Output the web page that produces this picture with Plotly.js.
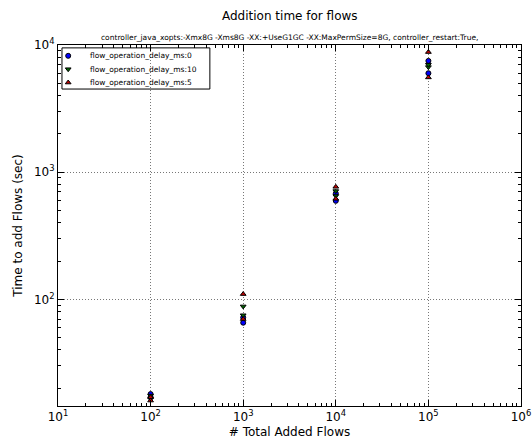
<!DOCTYPE html>
<html>
<head>
<meta charset="utf-8">
<script src="https://cdn.plot.ly/plotly-3.0.1.min.js"></script>
<style>html,body{margin:0;padding:0;background:#fff;}#chart{width:532px;height:445px;}</style>
</head>
<body>
<div id="chart"></div>
<script>
const seriesNames = ["flow_operation_delay_ms:0", "flow_operation_delay_ms:10", "flow_operation_delay_ms:5"];
const xFlows = [100, 100, 1000, 1000, 10000, 10000, 100000, 100000];
const yDelay0 = [17, 18, 65.5, 72, 595, 680, 6000, 7500];
const yDelay10 = [16.5, 17.5, 75, 88, 650, 710, 6700, 7000];
const yDelay5 = [16, 17, 70, 110, 617, 767, 5560, 8800];
const xTickVals = [10, 100, 1000, 10000, 100000, 1000000];
const xTickText = ["10<sup>1</sup>", "10<sup>2</sup>", "10<sup>3</sup>", "10<sup>4</sup>", "10<sup>5</sup>", "10<sup>6</sup>"];
const yTickVals = [100, 1000, 10000];
const yTickText = ["10<sup>2</sup>", "10<sup>3</sup>", "10<sup>4</sup>"];

const colors = ["#0000ff", "#006400", "#c00000"];
const symbols = ["circle", "triangle-down", "triangle-up"];
const ys = [yDelay0, yDelay10, yDelay5];

const traces = seriesNames.map((n, i) => ({
  type: "scatter", mode: "markers", name: n, showlegend: false,
  x: xFlows, y: ys[i],
  marker: {color: colors[i], symbol: symbols[i], size: 5, line: {color: "#000", width: 1}},
  cliponaxis: false
}));

// custom compact legend (matplotlib-like) on an overlay axis in [0,1] units
const legendRowsY = [0.970, 0.933, 0.896];
const legendMarkX = 0.022;
const legendTextX = 0.065;
seriesNames.forEach((n, i) => {
  traces.push({
    type: "scatter", mode: "markers", xaxis: "x2", yaxis: "y2", showlegend: false,
    x: [legendMarkX], y: [legendRowsY[i]],
    marker: {color: colors[i], symbol: symbols[i], size: 5, line: {color: "#000", width: 1}}
  });
});

const font = "DejaVu Sans, sans-serif";
const axisCommon = {
  type: "log", showline: true, linecolor: "#000", linewidth: 1, mirror: "ticks",
  ticks: "inside", ticklen: 6, tickcolor: "#000", tickmode: "array",
  showgrid: true, gridcolor: "#777", griddash: "1px,2px", gridwidth: 1,
  zeroline: false, tickfont: {family: font, size: 12, color: "#000"},
  minor: {ticks: "inside", ticklen: 3, tickcolor: "#000", dtick: "D1", showgrid: false}
};

const annotations = [
  {text: "Addition time for flows", xref: "paper", yref: "paper", x: 0.5, y: 1, yshift: 29,
    xanchor: "center", yanchor: "middle", showarrow: false, font: {family: font, size: 12}},
  {text: "controller_java_xopts:-Xmx8G -Xms8G -XX:+UseG1GC -XX:MaxPermSize=8G, controller_restart:True,",
    xref: "paper", yref: "paper", x: 0.5, y: 1, yshift: 1, xanchor: "center", yanchor: "bottom",
    showarrow: false, font: {family: font, size: 7.5}}
];
seriesNames.forEach((n, i) => {
  annotations.push({text: n, xref: "paper", yref: "paper", x: legendTextX, y: legendRowsY[i],
    xanchor: "left", yanchor: "middle", showarrow: false, font: {family: font, size: 7.5}});
});

const layout = {
  width: 532, height: 445,
  margin: {l: 58, r: 11, t: 45, b: 39},
  paper_bgcolor: "#fff", plot_bgcolor: "#fff",
  font: {family: font, color: "#000"},
  showlegend: false,
  xaxis: Object.assign({}, axisCommon, {range: [1, 6], tickvals: xTickVals, ticktext: xTickText,
    title: {text: "# Total Added Flows", font: {family: font, size: 12}, standoff: 4}}),
  yaxis: Object.assign({}, axisCommon, {range: [Math.log10(14.5), 4], tickvals: yTickVals, ticktext: yTickText,
    title: {text: "Time to add Flows (sec)", font: {family: font, size: 12}, standoff: 8}}),
  xaxis2: {overlaying: "x", range: [0, 1], visible: false, fixedrange: true},
  yaxis2: {overlaying: "y", range: [0, 1], visible: false, fixedrange: true},
  shapes: [
    {type: "rect", xref: "paper", yref: "paper", x0: 0.0086, x1: 0.328, y0: 0.878, y1: 0.992,
      line: {color: "#000", width: 1}, fillcolor: "#fff", layer: "below"}
  ],
  annotations: annotations
};

Plotly.newPlot("chart", traces, layout, {displayModeBar: false, staticPlot: true});
</script>
</body>
</html>
